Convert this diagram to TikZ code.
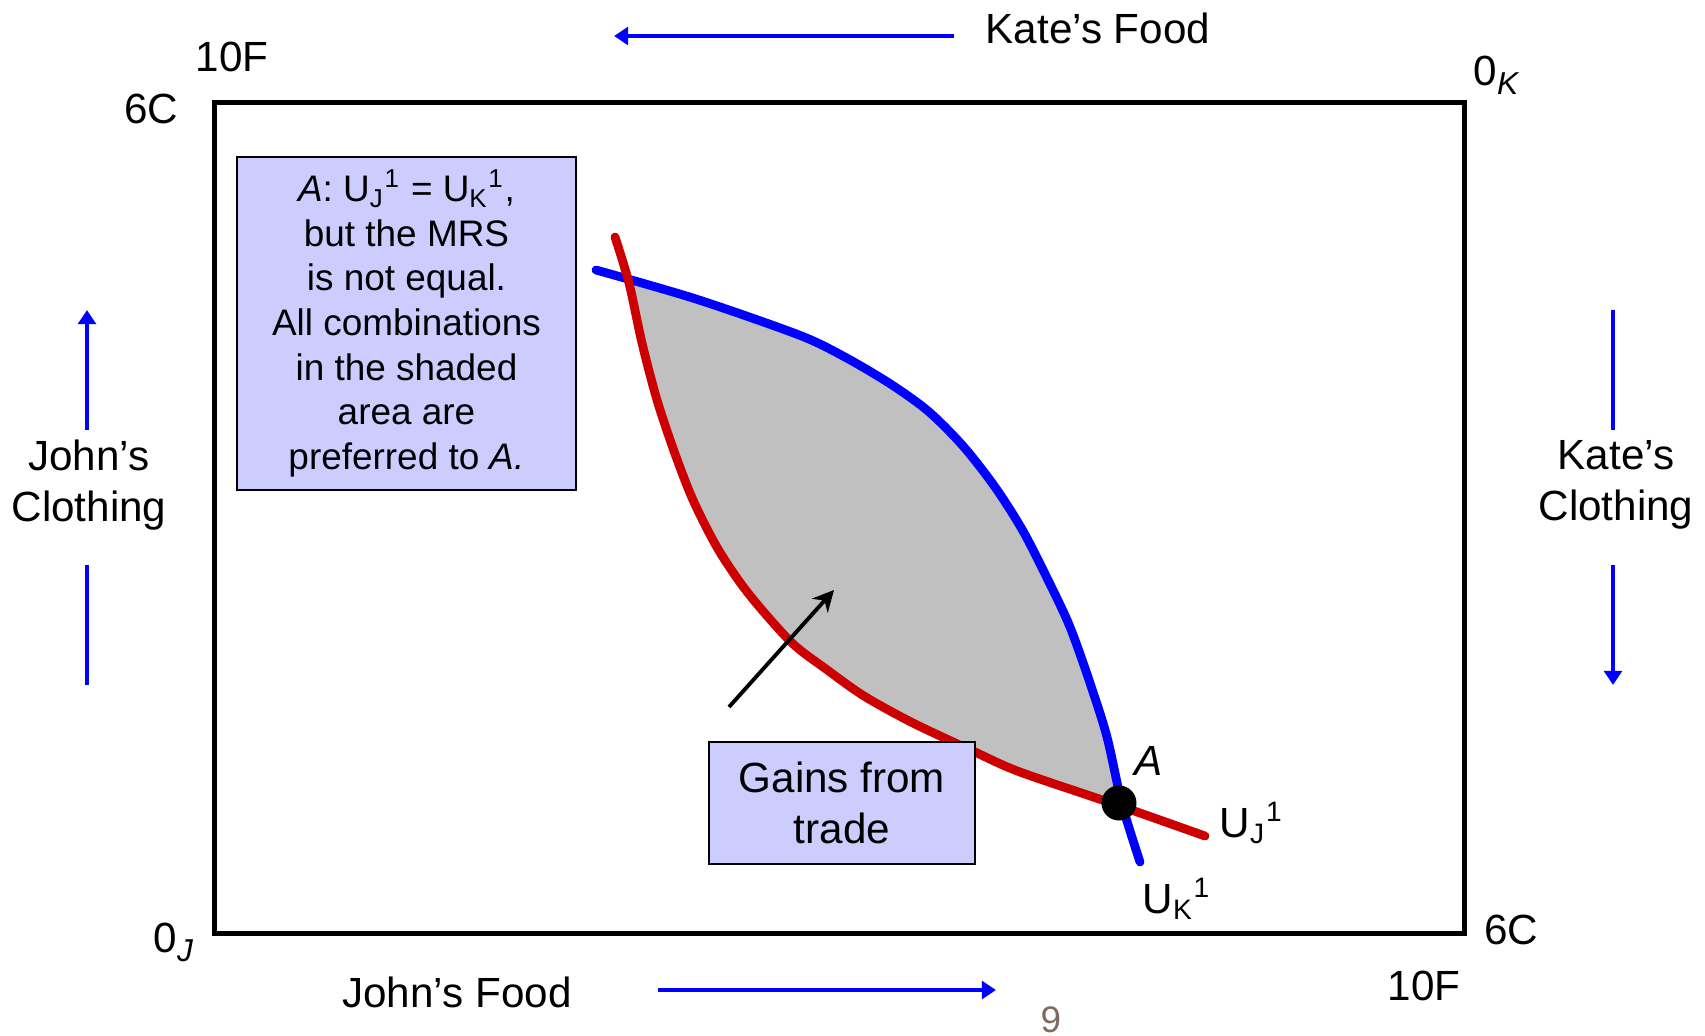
\documentclass[tikz,border=0pt]{standalone}
\usepackage{fontspec}
\setmainfont{Liberation Sans}
\usetikzlibrary{arrows.meta}
\definecolor{lav}{HTML}{CCCCFF}
\definecolor{lensgray}{HTML}{C0C0C0}
\definecolor{ured}{HTML}{CC0000}
\definecolor{pnum}{HTML}{7F6A5F}
\begin{document}
\begin{tikzpicture}[x=0.01cm,y=-0.01cm,
  lbl/.style={inner sep=0pt, font=\fontsize{12}{14.5}\selectfont},
  note/.style={draw=black, line width=0.7pt, fill=lav, align=center, inner sep=0pt},
  dirline/.style={blue, line width=1.2pt},
  dirarrow/.style={blue, line width=1.2pt, -{Triangle[length=4pt,width=5pt]}},
  curve/.style={line width=2.5pt, line cap=round, line join=round}]
\useasboundingbox (0,0) rectangle (1705,1036);

% shaded lens
\fill[lensgray] plot[smooth, tension=0.5] coordinates {(627,279) (696,299) (799,335) (843,356) (889,383) (928,411) (963,446) (995,487) (1023,531) (1049,582) (1070,627) (1090,683) (1107,737) (1121,805)}
  -- plot[smooth, tension=0.5] coordinates {(1121,805) (1020,772) (975,752) (913,723) (864,696) (826,669) (791,642) (748,593) (718,549) (693,500) (674,451) (657,400) (642,343) (629,283) (627,279)} -- cycle;

% main box
\node[draw=black, line width=1.3pt, minimum width=12.49cm, minimum height=8.30cm, inner sep=0pt] (edgebox) at (839.5,518) {};

% indifference curves
\draw[curve, blue] plot[smooth, tension=0.5] coordinates {(596,270) (696,299) (799,335) (843,356) (889,383) (928,411) (963,446) (995,487) (1023,531) (1049,582) (1070,627) (1090,683) (1107,737) (1122,804) (1140,862)};
\draw[curve, ured] plot[smooth, tension=0.5] coordinates {(615,237) (629,283) (642,343) (657,400) (674,451) (693,500) (718,549) (748,593) (791,642) (826,669) (864,696) (913,723) (975,752) (1020,772) (1120,806) (1205,836)};

% point A
\node[circle, fill=black, minimum size=0.35cm, inner sep=0pt] (ptA) at (1119,803) {};
\node[lbl, anchor=base, font=\fontsize{12}{14.5}\selectfont\itshape] (labA) at (1149,775) {A};
\node[lbl, anchor=base west] (uj) at (1219,837) {U\textsubscript{J}\textsuperscript{1}};
\node[lbl, anchor=base west] (uk) at (1142,913) {U\textsubscript{K}\textsuperscript{1}};

% corner labels
\node[lbl, anchor=base] (tf) at (232,71) {10F};
\node[lbl, anchor=base] (tc) at (151,123) {6C};
\node[lbl, anchor=base west] (ok) at (1473,85) {0\raisebox{-2.8pt}{\fontsize{9}{9}\selectfont\itshape K}};
\node[lbl, anchor=base west] (oj) at (153,952) {0\raisebox{-2.8pt}{\fontsize{9}{9}\selectfont\itshape J}};
\node[lbl, anchor=base] (bc) at (1511,944) {6C};
\node[lbl, anchor=base] (bf) at (1424,1000) {10F};

% axis labels and arrows
\node[lbl, anchor=base] (kf) at (1098,43) {Kate’s Food};
\coordinate (kfa) at (954,36);
\coordinate (kfb) at (614,36);
\draw[dirarrow] (kfa) -- (kfb);

\node[lbl, anchor=base] (jf) at (457,1007) {John’s Food};
\coordinate (jfa) at (658,990);
\coordinate (jfb) at (996,990);
\draw[dirarrow] (jfa) -- (jfb);

\node[lbl, align=center] (jc) at (89,485) {John’s\\Clothing};
\coordinate (jca) at (87,430);
\coordinate (jcb) at (87,310);
\coordinate (jcc) at (87,565);
\coordinate (jcd) at (87,685);
\draw[dirarrow] (jca) -- (jcb);
\draw[dirline] (jcc) -- (jcd);

\node[lbl, align=center] (kc) at (1616,485) {Kate’s\\Clothing};
\coordinate (kca) at (1613,310);
\coordinate (kcb) at (1613,430);
\coordinate (kcc) at (1613,565);
\coordinate (kcd) at (1613,685);
\draw[dirline] (kca) -- (kcb);
\draw[dirarrow] (kcc) -- (kcd);

% notes
\node[note, minimum width=3.39cm, minimum height=3.33cm, font=\fontsize{10.5}{12.7}\selectfont] (info) at (406.5,323.5)
  {\textit{A}: U\textsubscript{J}\textsuperscript{1} = U\textsubscript{K}\textsuperscript{1},\\but the MRS\\is not equal.\\All combinations\\in the shaded\\area are\\preferred to \textit{A.}};
\node[note, minimum width=2.66cm, minimum height=1.22cm, font=\fontsize{12}{14.3}\selectfont] (gains) at (842,803) {Gains from\\trade};

% pointer arrow
\coordinate (pa) at (729,707);
\coordinate (pb) at (834,590);
\draw[line width=1.1pt, -{Stealth[length=6pt,width=6pt]}] (pa) -- (pb);

% page number
\node[lbl, anchor=base, text=pnum, font=\fontsize{10.5}{12}\selectfont] (pg) at (1051,1032) {9};
\end{tikzpicture}
\end{document}
